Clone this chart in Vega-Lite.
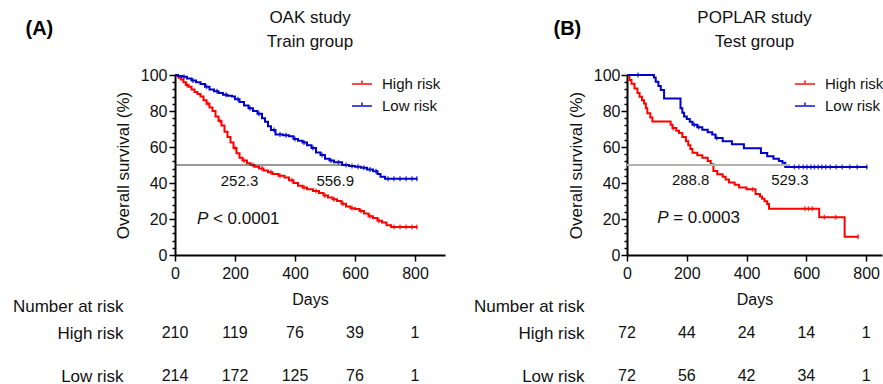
{
  "$schema": "https://vega.github.io/schema/vega-lite/v6.json",
  "background": "white",
  "padding": {"left": 12, "top": 9, "right": 0, "bottom": 0},
  "config": {
    "font": "Liberation Sans",
    "view": {"stroke": null},
    "axis": {"grid": false, "domainColor": "#000", "tickColor": "#000", "labelColor": "#111", "titleColor": "#111", "titleFontWeight": "normal", "labelFont": "Liberation Sans", "titleFont": "Liberation Sans"},
    "title": {"font": "Liberation Sans", "color": "#111"},
    "legend": {"labelFont": "Liberation Sans"}
  },
  "spacing": 28,
  "resolve": {"scale": {"x": "independent", "y": "independent", "color": "independent"}, "legend": {"color": "independent"}},
  "hconcat": [
    {
      "title": {"text": "(A)", "anchor": "start", "frame": "bounds", "fontSize": 20, "fontWeight": "bold", "color": "#000", "dx": 13, "dy": 30, "offset": 0},
      "bounds": "flush",
      "spacing": 78,
      "resolve": {"scale": {"x": "independent", "y": "independent"}},
      "vconcat": [
        {
          "width": 270,
          "height": 180,
          "title": {"text": ["OAK study", "Train group"], "fontSize": 17, "fontWeight": "normal", "lineHeight": 24, "offset": 16, "anchor": "middle"},
          "resolve": {"axis": {"y": "independent"}},
          "layer": [
            {
              "data": {"values": [
                {"group": "High risk", "day": 0, "surv": 100}, {"group": "High risk", "day": 5, "surv": 99.5}, {"group": "High risk", "day": 12, "surv": 98.5}, {"group": "High risk", "day": 20, "surv": 97.5}, {"group": "High risk", "day": 28, "surv": 96}, {"group": "High risk", "day": 36, "surv": 94.5}, {"group": "High risk", "day": 45, "surv": 93.5}, {"group": "High risk", "day": 55, "surv": 92}, {"group": "High risk", "day": 65, "surv": 90.5}, {"group": "High risk", "day": 75, "surv": 89.5}, {"group": "High risk", "day": 85, "surv": 88}, {"group": "High risk", "day": 95, "surv": 86}, {"group": "High risk", "day": 105, "surv": 84}, {"group": "High risk", "day": 115, "surv": 82}, {"group": "High risk", "day": 125, "surv": 80}, {"group": "High risk", "day": 135, "surv": 77}, {"group": "High risk", "day": 145, "surv": 74.5}, {"group": "High risk", "day": 155, "surv": 72}, {"group": "High risk", "day": 165, "surv": 68.5}, {"group": "High risk", "day": 175, "surv": 65.5}, {"group": "High risk", "day": 185, "surv": 62.5}, {"group": "High risk", "day": 195, "surv": 59.5}, {"group": "High risk", "day": 205, "surv": 56.5}, {"group": "High risk", "day": 215, "surv": 54}, {"group": "High risk", "day": 225, "surv": 52.5}, {"group": "High risk", "day": 240, "surv": 51}, {"group": "High risk", "day": 252, "surv": 50}, {"group": "High risk", "day": 265, "surv": 49}, {"group": "High risk", "day": 280, "surv": 48}, {"group": "High risk", "day": 295, "surv": 47}, {"group": "High risk", "day": 310, "surv": 46}, {"group": "High risk", "day": 325, "surv": 45}, {"group": "High risk", "day": 345, "surv": 44}, {"group": "High risk", "day": 365, "surv": 43}, {"group": "High risk", "day": 380, "surv": 41.5}, {"group": "High risk", "day": 395, "surv": 40}, {"group": "High risk", "day": 410, "surv": 38.5}, {"group": "High risk", "day": 425, "surv": 37.5}, {"group": "High risk", "day": 440, "surv": 36.5}, {"group": "High risk", "day": 460, "surv": 35.5}, {"group": "High risk", "day": 480, "surv": 34.5}, {"group": "High risk", "day": 495, "surv": 33}, {"group": "High risk", "day": 510, "surv": 32}, {"group": "High risk", "day": 525, "surv": 31}, {"group": "High risk", "day": 540, "surv": 30}, {"group": "High risk", "day": 555, "surv": 28.5}, {"group": "High risk", "day": 570, "surv": 27}, {"group": "High risk", "day": 585, "surv": 26}, {"group": "High risk", "day": 600, "surv": 25.5}, {"group": "High risk", "day": 615, "surv": 24.5}, {"group": "High risk", "day": 630, "surv": 23}, {"group": "High risk", "day": 645, "surv": 21.5}, {"group": "High risk", "day": 660, "surv": 20.5}, {"group": "High risk", "day": 675, "surv": 19}, {"group": "High risk", "day": 690, "surv": 18}, {"group": "High risk", "day": 705, "surv": 16.5}, {"group": "High risk", "day": 720, "surv": 15.5}, {"group": "High risk", "day": 808, "surv": 15.5},
                {"group": "Low risk", "day": 0, "surv": 100}, {"group": "Low risk", "day": 10, "surv": 99.5}, {"group": "Low risk", "day": 25, "surv": 99}, {"group": "Low risk", "day": 40, "surv": 98}, {"group": "Low risk", "day": 55, "surv": 97}, {"group": "Low risk", "day": 70, "surv": 96}, {"group": "Low risk", "day": 85, "surv": 95}, {"group": "Low risk", "day": 100, "surv": 93.5}, {"group": "Low risk", "day": 115, "surv": 92}, {"group": "Low risk", "day": 130, "surv": 91}, {"group": "Low risk", "day": 145, "surv": 90}, {"group": "Low risk", "day": 160, "surv": 89}, {"group": "Low risk", "day": 175, "surv": 88.5}, {"group": "Low risk", "day": 190, "surv": 88}, {"group": "Low risk", "day": 200, "surv": 86.5}, {"group": "Low risk", "day": 215, "surv": 85}, {"group": "Low risk", "day": 230, "surv": 83}, {"group": "Low risk", "day": 245, "surv": 81.5}, {"group": "Low risk", "day": 260, "surv": 80}, {"group": "Low risk", "day": 275, "surv": 78.5}, {"group": "Low risk", "day": 290, "surv": 76}, {"group": "Low risk", "day": 300, "surv": 74}, {"group": "Low risk", "day": 310, "surv": 71.5}, {"group": "Low risk", "day": 320, "surv": 69.5}, {"group": "Low risk", "day": 335, "surv": 67}, {"group": "Low risk", "day": 360, "surv": 66.5}, {"group": "Low risk", "day": 380, "surv": 66}, {"group": "Low risk", "day": 395, "surv": 64.5}, {"group": "Low risk", "day": 410, "surv": 63.5}, {"group": "Low risk", "day": 425, "surv": 62.5}, {"group": "Low risk", "day": 440, "surv": 61}, {"group": "Low risk", "day": 455, "surv": 59.5}, {"group": "Low risk", "day": 470, "surv": 57}, {"group": "Low risk", "day": 485, "surv": 55.5}, {"group": "Low risk", "day": 500, "surv": 53.5}, {"group": "Low risk", "day": 515, "surv": 52.5}, {"group": "Low risk", "day": 530, "surv": 51.5}, {"group": "Low risk", "day": 557, "surv": 50}, {"group": "Low risk", "day": 580, "surv": 49.5}, {"group": "Low risk", "day": 600, "surv": 49}, {"group": "Low risk", "day": 620, "surv": 48.5}, {"group": "Low risk", "day": 640, "surv": 47.5}, {"group": "Low risk", "day": 660, "surv": 46.5}, {"group": "Low risk", "day": 675, "surv": 45}, {"group": "Low risk", "day": 685, "surv": 43.5}, {"group": "Low risk", "day": 700, "surv": 42.3}, {"group": "Low risk", "day": 808, "surv": 42.3}
              ]},
              "mark": {"type": "line", "interpolate": "step-after", "strokeWidth": 2},
              "encoding": {
                "x": {"field": "day", "type": "quantitative", "scale": {"domain": [0, 900], "nice": false}, "axis": {"values": [0, 200, 400, 600, 800], "title": "Days", "tickSize": 6, "tickWidth": 1.5, "domainWidth": 2, "labelFontSize": 16, "labelPadding": 4, "titleFontSize": 16, "titlePadding": 10, "labelFlush": false}},
                "y": {"field": "surv", "type": "quantitative", "scale": {"domain": [0, 100], "nice": false}, "axis": {"orient": "left", "values": [0, 20, 40, 60, 80, 100], "tickSize": 6, "tickWidth": 1.5, "domainWidth": 2, "labelFontSize": 16, "labelPadding": 2, "labelOverlap": false, "title": "Overall survival (%)", "titleFontSize": 17, "titlePadding": 8, "labelFlush": false}},
                "color": {"field": "group", "type": "nominal", "scale": {"domain": ["High risk", "Low risk"], "range": ["#ff0000", "#0000cc"]}, "legend": {"title": null, "orient": "none", "legendX": 176, "legendY": -2, "symbolType": "M-1,0H1M0,0V-0.35", "symbolSize": 400, "symbolStrokeWidth": 2, "labelFontSize": 15, "labelOffset": 9, "rowPadding": 3, "labelColor": "#111"}}
              }
            },
            {
              "data": {"values": [
                {"group": "High risk", "day": 40, "surv": 94.5}, {"group": "High risk", "day": 110, "surv": 84}, {"group": "High risk", "day": 150, "surv": 74.5}, {"group": "High risk", "day": 200, "surv": 59.5}, {"group": "High risk", "day": 230, "surv": 52.5}, {"group": "High risk", "day": 260, "surv": 50}, {"group": "High risk", "day": 290, "surv": 48}, {"group": "High risk", "day": 320, "surv": 46}, {"group": "High risk", "day": 350, "surv": 44}, {"group": "High risk", "day": 390, "surv": 41.5}, {"group": "High risk", "day": 430, "surv": 37.5}, {"group": "High risk", "day": 470, "surv": 35.5}, {"group": "High risk", "day": 500, "surv": 33}, {"group": "High risk", "day": 530, "surv": 31}, {"group": "High risk", "day": 560, "surv": 28.5}, {"group": "High risk", "day": 590, "surv": 26}, {"group": "High risk", "day": 620, "surv": 24.5}, {"group": "High risk", "day": 650, "surv": 21.5}, {"group": "High risk", "day": 680, "surv": 19}, {"group": "High risk", "day": 730, "surv": 15.5}, {"group": "High risk", "day": 750, "surv": 15.5}, {"group": "High risk", "day": 770, "surv": 15.5}, {"group": "High risk", "day": 790, "surv": 15.5}, {"group": "High risk", "day": 806, "surv": 15.5},
                {"group": "Low risk", "day": 30, "surv": 99}, {"group": "Low risk", "day": 60, "surv": 97}, {"group": "Low risk", "day": 105, "surv": 93.5}, {"group": "Low risk", "day": 140, "surv": 91}, {"group": "Low risk", "day": 170, "surv": 89}, {"group": "Low risk", "day": 210, "surv": 86.5}, {"group": "Low risk", "day": 250, "surv": 81.5}, {"group": "Low risk", "day": 280, "surv": 78.5}, {"group": "Low risk", "day": 330, "surv": 69.5}, {"group": "Low risk", "day": 350, "surv": 67}, {"group": "Low risk", "day": 370, "surv": 66.5}, {"group": "Low risk", "day": 400, "surv": 64.5}, {"group": "Low risk", "day": 430, "surv": 62.5}, {"group": "Low risk", "day": 460, "surv": 59.5}, {"group": "Low risk", "day": 490, "surv": 55.5}, {"group": "Low risk", "day": 520, "surv": 52.5}, {"group": "Low risk", "day": 545, "surv": 51.5}, {"group": "Low risk", "day": 570, "surv": 50}, {"group": "Low risk", "day": 590, "surv": 49.5}, {"group": "Low risk", "day": 610, "surv": 49}, {"group": "Low risk", "day": 630, "surv": 48.5}, {"group": "Low risk", "day": 650, "surv": 47.5}, {"group": "Low risk", "day": 670, "surv": 46.5}, {"group": "Low risk", "day": 710, "surv": 42.3}, {"group": "Low risk", "day": 730, "surv": 42.3}, {"group": "Low risk", "day": 750, "surv": 42.3}, {"group": "Low risk", "day": 770, "surv": 42.3}, {"group": "Low risk", "day": 790, "surv": 42.3}, {"group": "Low risk", "day": 806, "surv": 42.3}
              ]},
              "mark": {"type": "tick", "orient": "vertical", "size": 5, "thickness": 1.5},
              "encoding": {
                "x": {"field": "day", "type": "quantitative"},
                "y": {"field": "surv", "type": "quantitative", "axis": {"orient": "left", "values": [4, 8, 12, 16, 24, 28, 32, 36, 44, 48, 52, 56, 64, 68, 72, 76, 84, 88, 92, 96], "labels": false, "tickSize": 3, "tickWidth": 1.5, "domain": false, "title": null}},
                "color": {"field": "group", "type": "nominal"}
              }
            },
            {
              "data": {"values": [{"median": "Low risk median"}]},
              "mark": {"type": "rule", "color": "#333", "strokeWidth": 1},
              "encoding": {"x": {"datum": 0}, "x2": {"datum": 556.9}, "y": {"datum": 50, "axis": null}}
            },
            {
              "data": {"values": [{"label": "252.3"}]},
              "mark": {"type": "text", "fontSize": 15, "color": "#111"},
              "encoding": {"x": {"datum": 215}, "y": {"datum": 41.3, "axis": null}, "text": {"field": "label"}}
            },
            {
              "data": {"values": [{"label": "556.9"}]},
              "mark": {"type": "text", "fontSize": 15, "color": "#111"},
              "encoding": {"x": {"datum": 534}, "y": {"datum": 41.3, "axis": null}, "text": {"field": "label"}}
            },
            {
              "data": {"values": [{"label": "P"}]},
              "mark": {"type": "text", "fontSize": 17, "fontStyle": "italic", "align": "left", "color": "#111"},
              "encoding": {"x": {"datum": 73}, "y": {"datum": 20, "axis": null}, "text": {"field": "label"}}
            },
            {
              "data": {"values": [{"label": "< 0.0001"}]},
              "mark": {"type": "text", "fontSize": 17, "align": "left", "dx": 16, "color": "#111"},
              "encoding": {"x": {"datum": 73}, "y": {"datum": 20, "axis": null}, "text": {"field": "label"}}
            }
          ]
        },
        {
          "width": 270,
          "height": 43,
          "data": {"values": [
            {"group": "High risk", "day": 0, "n": 210}, {"group": "High risk", "day": 200, "n": 119}, {"group": "High risk", "day": 400, "n": 76}, {"group": "High risk", "day": 600, "n": 39}, {"group": "High risk", "day": 800, "n": 1},
            {"group": "Low risk", "day": 0, "n": 214}, {"group": "Low risk", "day": 200, "n": 172}, {"group": "Low risk", "day": 400, "n": 125}, {"group": "Low risk", "day": 600, "n": 76}, {"group": "Low risk", "day": 800, "n": 1}
          ]},
          "mark": {"type": "text", "fontSize": 16, "color": "#111"},
          "encoding": {
            "x": {"field": "day", "type": "quantitative", "scale": {"domain": [0, 900], "nice": false}, "axis": null},
            "y": {"field": "group", "type": "nominal", "scale": {"type": "point", "padding": 0, "domain": ["High risk", "Low risk"]}, "axis": {"title": "Number at risk", "titleAngle": 0, "titleAlign": "right", "titleBaseline": "middle", "titleX": -52, "titleY": -27, "titleFontSize": 17, "labelFontSize": 17, "labelPadding": 52, "ticks": false, "tickSize": 0, "domain": false}},
            "text": {"field": "n", "type": "quantitative"}
          }
        }
      ]
    },
    {
      "title": {"text": "(B)", "anchor": "start", "frame": "bounds", "fontSize": 20, "fontWeight": "bold", "color": "#000", "dx": 80, "dy": 30, "offset": 0},
      "bounds": "flush",
      "spacing": 78,
      "resolve": {"scale": {"x": "independent", "y": "independent"}},
      "vconcat": [
        {
          "width": 255,
          "height": 180,
          "title": {"text": ["POPLAR study", "Test group"], "fontSize": 17, "fontWeight": "normal", "lineHeight": 24, "offset": 16, "anchor": "middle"},
          "resolve": {"axis": {"y": "independent"}},
          "layer": [
            {
              "data": {"values": [
                {"group": "High risk", "day": 0, "surv": 100}, {"group": "High risk", "day": 8, "surv": 97.2}, {"group": "High risk", "day": 15, "surv": 95.2}, {"group": "High risk", "day": 25, "surv": 92.5}, {"group": "High risk", "day": 35, "surv": 90}, {"group": "High risk", "day": 42, "surv": 87.9}, {"group": "High risk", "day": 50, "surv": 86}, {"group": "High risk", "day": 57, "surv": 84.2}, {"group": "High risk", "day": 63, "surv": 81.5}, {"group": "High risk", "day": 68, "surv": 78.7}, {"group": "High risk", "day": 78, "surv": 76.4}, {"group": "High risk", "day": 85, "surv": 74.2}, {"group": "High risk", "day": 146, "surv": 72.3}, {"group": "High risk", "day": 152, "surv": 70.5}, {"group": "High risk", "day": 165, "surv": 69}, {"group": "High risk", "day": 174, "surv": 67.8}, {"group": "High risk", "day": 185, "surv": 65.5}, {"group": "High risk", "day": 197, "surv": 63.2}, {"group": "High risk", "day": 205, "surv": 61}, {"group": "High risk", "day": 212, "surv": 58.9}, {"group": "High risk", "day": 219, "surv": 56.8}, {"group": "High risk", "day": 235, "surv": 55.4}, {"group": "High risk", "day": 252, "surv": 54}, {"group": "High risk", "day": 270, "surv": 52.2}, {"group": "High risk", "day": 280, "surv": 50.4}, {"group": "High risk", "day": 289, "surv": 46.7}, {"group": "High risk", "day": 302, "surv": 44.9}, {"group": "High risk", "day": 320, "surv": 43.5}, {"group": "High risk", "day": 330, "surv": 42}, {"group": "High risk", "day": 341, "surv": 40.3}, {"group": "High risk", "day": 360, "surv": 39}, {"group": "High risk", "day": 375, "surv": 37.5}, {"group": "High risk", "day": 400, "surv": 36.5}, {"group": "High risk", "day": 430, "surv": 33.9}, {"group": "High risk", "day": 445, "surv": 32.5}, {"group": "High risk", "day": 452, "surv": 31.2}, {"group": "High risk", "day": 460, "surv": 29.8}, {"group": "High risk", "day": 469, "surv": 28.4}, {"group": "High risk", "day": 475, "surv": 25.7}, {"group": "High risk", "day": 643, "surv": 21}, {"group": "High risk", "day": 728, "surv": 10.1}, {"group": "High risk", "day": 775, "surv": 10.1},
                {"group": "Low risk", "day": 0, "surv": 100}, {"group": "Low risk", "day": 85, "surv": 100}, {"group": "Low risk", "day": 90, "surv": 98.6}, {"group": "Low risk", "day": 96, "surv": 96.2}, {"group": "Low risk", "day": 105, "surv": 93.9}, {"group": "Low risk", "day": 113, "surv": 91.6}, {"group": "Low risk", "day": 124, "surv": 87}, {"group": "Low risk", "day": 179, "surv": 81.5}, {"group": "Low risk", "day": 185, "surv": 79}, {"group": "Low risk", "day": 191, "surv": 76.9}, {"group": "Low risk", "day": 200, "surv": 75.5}, {"group": "Low risk", "day": 210, "surv": 74}, {"group": "Low risk", "day": 219, "surv": 72.4}, {"group": "Low risk", "day": 235, "surv": 71}, {"group": "Low risk", "day": 252, "surv": 69.6}, {"group": "Low risk", "day": 270, "surv": 68.2}, {"group": "Low risk", "day": 285, "surv": 66.9}, {"group": "Low risk", "day": 296, "surv": 65}, {"group": "Low risk", "day": 320, "surv": 63.2}, {"group": "Low risk", "day": 351, "surv": 61.5}, {"group": "Low risk", "day": 391, "surv": 59.3}, {"group": "Low risk", "day": 448, "surv": 56.7}, {"group": "Low risk", "day": 469, "surv": 54.9}, {"group": "Low risk", "day": 490, "surv": 53.5}, {"group": "Low risk", "day": 508, "surv": 52.2}, {"group": "Low risk", "day": 520, "surv": 51.3}, {"group": "Low risk", "day": 529.3, "surv": 48.9}, {"group": "Low risk", "day": 804, "surv": 48.9}
              ]},
              "mark": {"type": "line", "interpolate": "step-after", "strokeWidth": 2},
              "encoding": {
                "x": {"field": "day", "type": "quantitative", "scale": {"domain": [0, 853], "nice": false}, "axis": {"values": [0, 200, 400, 600, 800], "title": "Days", "tickSize": 6, "tickWidth": 1.5, "domainWidth": 2, "labelFontSize": 16, "labelPadding": 4, "titleFontSize": 16, "titlePadding": 10, "labelFlush": false}},
                "y": {"field": "surv", "type": "quantitative", "scale": {"domain": [0, 100], "nice": false}, "axis": {"orient": "left", "values": [0, 20, 40, 60, 80, 100], "tickSize": 6, "tickWidth": 1.5, "domainWidth": 2, "labelFontSize": 16, "labelPadding": 1, "labelOverlap": false, "title": "Overall survival (%)", "titleFontSize": 17, "titlePadding": 8, "labelFlush": false}},
                "color": {"field": "group", "type": "nominal", "scale": {"domain": ["High risk", "Low risk"], "range": ["#ff0000", "#0000cc"]}, "legend": {"title": null, "orient": "none", "legendX": 167, "legendY": -2, "symbolType": "M-1,0H1M0,0V-0.35", "symbolSize": 400, "symbolStrokeWidth": 2, "labelFontSize": 15, "labelOffset": 9, "rowPadding": 3, "labelColor": "#111", "labelLimit": 200}}
              }
            },
            {
              "data": {"values": [
                {"group": "High risk", "day": 155, "surv": 70.5}, {"group": "High risk", "day": 420, "surv": 36.5}, {"group": "High risk", "day": 595, "surv": 25.7}, {"group": "High risk", "day": 607, "surv": 25.7}, {"group": "High risk", "day": 620, "surv": 25.7}, {"group": "High risk", "day": 660, "surv": 21}, {"group": "High risk", "day": 698, "surv": 21}, {"group": "High risk", "day": 773, "surv": 10.1},
                {"group": "Low risk", "day": 37, "surv": 100}, {"group": "Low risk", "day": 225, "surv": 72.4}, {"group": "Low risk", "day": 240, "surv": 71}, {"group": "Low risk", "day": 300, "surv": 65}, {"group": "Low risk", "day": 560, "surv": 48.9}, {"group": "Low risk", "day": 575, "surv": 48.9}, {"group": "Low risk", "day": 590, "surv": 48.9}, {"group": "Low risk", "day": 602, "surv": 48.9}, {"group": "Low risk", "day": 615, "surv": 48.9}, {"group": "Low risk", "day": 627, "surv": 48.9}, {"group": "Low risk", "day": 640, "surv": 48.9}, {"group": "Low risk", "day": 652, "surv": 48.9}, {"group": "Low risk", "day": 665, "surv": 48.9}, {"group": "Low risk", "day": 680, "surv": 48.9}, {"group": "Low risk", "day": 700, "surv": 48.9}, {"group": "Low risk", "day": 720, "surv": 48.9}, {"group": "Low risk", "day": 745, "surv": 48.9}, {"group": "Low risk", "day": 770, "surv": 48.9}, {"group": "Low risk", "day": 802, "surv": 48.9}
              ]},
              "mark": {"type": "tick", "orient": "vertical", "size": 5, "thickness": 1.5},
              "encoding": {
                "x": {"field": "day", "type": "quantitative"},
                "y": {"field": "surv", "type": "quantitative", "axis": {"orient": "left", "values": [4, 8, 12, 16, 24, 28, 32, 36, 44, 48, 52, 56, 64, 68, 72, 76, 84, 88, 92, 96], "labels": false, "tickSize": 3, "tickWidth": 1.5, "domain": false, "title": null}},
                "color": {"field": "group", "type": "nominal"}
              }
            },
            {
              "data": {"values": [{"median": "Low risk median"}]},
              "mark": {"type": "rule", "color": "#b4b4b4", "strokeWidth": 2},
              "encoding": {"x": {"datum": 0}, "x2": {"datum": 545}, "y": {"datum": 50, "axis": null}}
            },
            {
              "data": {"values": [{"label": "288.8"}]},
              "mark": {"type": "text", "fontSize": 15, "color": "#111"},
              "encoding": {"x": {"datum": 213}, "y": {"datum": 41.8, "axis": null}, "text": {"field": "label"}}
            },
            {
              "data": {"values": [{"label": "529.3"}]},
              "mark": {"type": "text", "fontSize": 15, "color": "#111"},
              "encoding": {"x": {"datum": 545}, "y": {"datum": 41.8, "axis": null}, "text": {"field": "label"}}
            },
            {
              "data": {"values": [{"label": "P"}]},
              "mark": {"type": "text", "fontSize": 17, "fontStyle": "italic", "align": "left", "color": "#111"},
              "encoding": {"x": {"datum": 101}, "y": {"datum": 20.3, "axis": null}, "text": {"field": "label"}}
            },
            {
              "data": {"values": [{"label": "= 0.0003"}]},
              "mark": {"type": "text", "fontSize": 17, "align": "left", "dx": 16, "color": "#111"},
              "encoding": {"x": {"datum": 101}, "y": {"datum": 20.3, "axis": null}, "text": {"field": "label"}}
            }
          ]
        },
        {
          "width": 255,
          "height": 43,
          "data": {"values": [
            {"group": "High risk", "day": 0, "n": 72}, {"group": "High risk", "day": 200, "n": 44}, {"group": "High risk", "day": 400, "n": 24}, {"group": "High risk", "day": 600, "n": 14}, {"group": "High risk", "day": 800, "n": 1},
            {"group": "Low risk", "day": 0, "n": 72}, {"group": "Low risk", "day": 200, "n": 56}, {"group": "Low risk", "day": 400, "n": 42}, {"group": "Low risk", "day": 600, "n": 34}, {"group": "Low risk", "day": 800, "n": 1}
          ]},
          "mark": {"type": "text", "fontSize": 16, "color": "#111"},
          "encoding": {
            "x": {"field": "day", "type": "quantitative", "scale": {"domain": [0, 853], "nice": false}, "axis": null},
            "y": {"field": "group", "type": "nominal", "scale": {"type": "point", "padding": 0, "domain": ["High risk", "Low risk"]}, "axis": {"title": "Number at risk", "titleAngle": 0, "titleAlign": "right", "titleBaseline": "middle", "titleX": -43, "titleY": -27, "titleFontSize": 17, "labelFontSize": 17, "labelPadding": 43, "ticks": false, "tickSize": 0, "domain": false}},
            "text": {"field": "n", "type": "quantitative"}
          }
        }
      ]
    }
  ]
}
